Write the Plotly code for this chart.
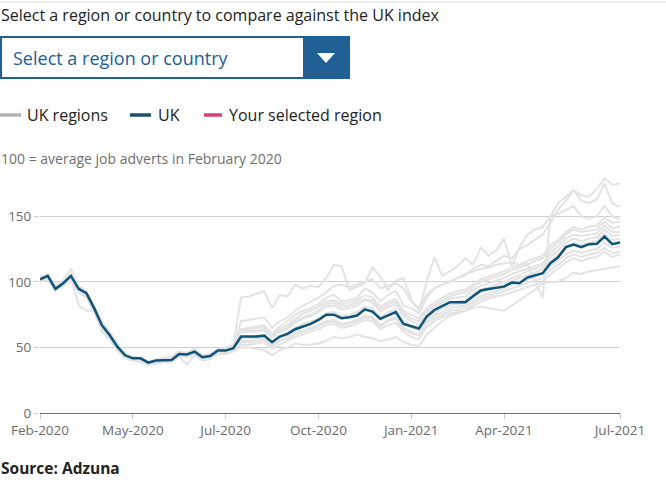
import plotly.graph_objects as go
import pandas as pd

W, H = 666, 497

# Weekly categories (Feb 2020 - Jul 2021)
weeks = list(pd.date_range("2020-02-03", periods=76, freq="7D").strftime("%d-%b-%Y"))
tick_idx = [0, 12, 24, 36, 48, 60, 75]
tick_text = ["Feb-2020", "May-2020", "Jul-2020", "Oct-2020", "Jan-2021", "Apr-2021", "Jul-2021"]

uk = [102, 104.6, 94.7, 99, 104.6, 94.7, 91.4, 80, 67, 59.5, 50.6, 44, 41.7, 41.7, 38.4, 40, 40.3, 40.5,
      45, 44.7, 46.8, 42.5, 43.5, 47.6, 47.6, 49.4, 58.3, 58.3, 58.3, 59, 54, 58.3, 60.3, 63.9, 65.9, 68,
      71, 75, 75, 72.3, 73, 74.3, 79.1, 77.4, 71.8, 74.5, 77, 68, 66, 64.4, 73.5, 78.6, 81.5, 84.5, 84.5,
      84.5, 89, 93.4, 94.5, 95.5, 96.4, 99.5, 99, 103.3, 105, 106.6, 114.3, 118.8, 126.5, 128.5, 126.5,
      128.8, 129, 134.6, 128.8, 130]

r1 = [100, 103, 95, 100, 106, 96, 90, 78, 66, 58, 50, 43, 40, 40, 37, 38, 39, 40, 44, 43, 45, 41, 42, 46, 46, 48,
      64, 65, 66, 67, 60, 66, 70, 75, 78, 80, 83, 88, 90, 85, 86, 88, 95, 92, 85, 90, 93, 82, 80, 76,
      88, 95, 98, 100, 103, 105, 110, 113, 112, 116, 120, 118, 125, 128, 132, 136, 145, 155, 162, 170, 166, 165, 171, 179, 174, 175]
r2 = [104, 106, 96, 101, 110, 97, 93, 82, 70, 62, 53, 46, 43, 42, 39, 41, 42, 43, 47, 46, 49, 44, 45, 49, 50, 52,
      88, 89, 91, 93, 80, 90, 89, 98, 95, 97, 96, 103, 113, 112, 94, 96, 99, 111, 104, 94, 101, 103, 87, 78,
      100, 119, 105, 108, 112, 118, 113, 126, 120, 124, 133, 112, 126, 136, 140, 142, 150, 160, 165, 170, 162, 160, 163, 175, 160, 157]
r3 = [103, 104, 94, 98, 103, 93, 90, 79, 65, 58, 49, 43, 41, 41, 38, 39, 40, 41, 45, 45, 47, 43, 44, 48, 48, 50,
      70, 71, 72, 73, 65, 70, 73, 78, 82, 85, 88, 92, 97, 98, 96, 98, 100, 102, 95, 97, 99, 95, 85, 80,
      90, 95, 98, 100, 103, 106, 108, 110, 111, 113, 114, 115, 113, 114, 100, 88, 150, 152, 155, 158, 150, 148, 150, 158, 150, 148]
r4 = [101, 103, 93, 98, 102, 93, 89, 79, 66, 59, 50, 44, 41, 41, 38, 40, 40, 41, 45, 45, 47, 43, 44, 47, 48, 50,
      64, 64, 65, 66, 60, 64, 67, 72, 76, 78, 81, 85, 86, 83, 84, 86, 90, 88, 81, 85, 87, 78, 75, 72,
      80, 84, 88, 91, 93, 94, 98, 102, 104, 106, 108, 111, 113, 116, 118, 120, 128, 132, 138, 142, 140, 142, 143, 149, 145, 146]
r5 = [102, 104, 95, 99, 104, 95, 91, 80, 67, 60, 51, 44, 42, 42, 39, 40, 40, 41, 45, 45, 47, 43, 44, 48, 48, 49,
      62, 62, 62, 63, 58, 62, 65, 70, 73, 75, 78, 83, 84, 81, 82, 84, 87, 86, 79, 83, 85, 76, 72, 70,
      78, 82, 86, 89, 91, 92, 96, 100, 102, 104, 106, 109, 111, 113, 116, 118, 125, 130, 136, 140, 138, 139, 140, 146, 141, 142]
r6 = [103, 105, 96, 100, 105, 96, 92, 81, 68, 60, 51, 45, 42, 42, 39, 40, 41, 41, 46, 45, 47, 43, 44, 48, 48, 50,
      63, 63, 63, 64, 58, 62, 64, 69, 72, 74, 77, 81, 82, 79, 80, 82, 86, 84, 77, 81, 83, 74, 70, 67,
      76, 81, 84, 87, 88, 89, 94, 97, 99, 101, 103, 106, 108, 110, 112, 114, 122, 127, 133, 136, 135, 136, 137, 143, 138, 138]
r7 = [101, 103, 94, 98, 103, 94, 90, 78, 64, 57, 48, 42, 40, 40, 37, 38, 39, 39, 44, 43, 45, 41, 42, 46, 46, 48,
      58, 58, 58, 59, 54, 58, 61, 65, 68, 70, 72, 76, 77, 74, 75, 77, 81, 80, 73, 77, 79, 70, 67, 64,
      73, 78, 81, 84, 85, 86, 91, 94, 96, 98, 100, 103, 105, 108, 110, 112, 119, 124, 130, 133, 131, 133, 134, 140, 135, 136]
r8 = [102, 104, 95, 99, 104, 95, 91, 80, 66, 59, 50, 44, 41, 41, 38, 39, 40, 40, 44, 44, 46, 42, 43, 47, 47, 49,
      57, 57, 57, 58, 53, 57, 59, 63, 66, 68, 70, 74, 75, 72, 73, 75, 78, 77, 71, 75, 77, 69, 65, 63,
      72, 76, 80, 82, 83, 84, 89, 92, 94, 96, 98, 101, 103, 105, 107, 110, 116, 121, 127, 130, 128, 130, 131, 137, 132, 133]
r9 = [100, 102, 93, 97, 101, 92, 88, 77, 64, 57, 49, 43, 40, 40, 37, 38, 39, 39, 43, 43, 45, 41, 42, 46, 46, 47,
      54, 54, 55, 56, 51, 55, 57, 61, 63, 65, 67, 70, 71, 68, 69, 71, 74, 73, 67, 71, 73, 65, 62, 60,
      70, 74, 77, 80, 81, 82, 86, 89, 91, 93, 95, 98, 100, 102, 104, 106, 112, 116, 121, 124, 122, 124, 125, 130, 126, 127]
r10 = [103, 105, 96, 100, 104, 94, 90, 79, 66, 59, 50, 44, 41, 41, 38, 39, 40, 40, 44, 44, 46, 42, 43, 47, 47, 49,
       55, 55, 55, 56, 51, 55, 57, 60, 62, 64, 66, 69, 70, 67, 68, 70, 73, 72, 66, 70, 72, 64, 61, 59,
       69, 72, 75, 78, 79, 80, 84, 87, 89, 91, 93, 95, 97, 99, 101, 103, 109, 113, 118, 121, 119, 121, 122, 126, 122, 123]
r11 = [103, 104, 95, 99, 103, 82, 78, 78, 62, 56, 48, 42, 40, 39, 37, 38, 39, 39, 43, 43, 45, 41, 42, 46, 46, 48,
       52, 52, 53, 54, 49, 52, 55, 58, 60, 62, 64, 67, 68, 65, 66, 68, 71, 70, 64, 67, 69, 62, 58, 56,
       66, 70, 73, 76, 77, 78, 82, 85, 87, 89, 90, 92, 94, 96, 98, 100, 106, 110, 115, 118, 116, 118, 119, 123, 119, 121]
r12 = [101, 103, 94, 98, 102, 93, 89, 78, 64, 57, 48, 43, 40, 40, 37, 38, 39, 39, 43, 37, 44, 40, 41, 45, 45, 47,
       50, 50, 49, 48, 44, 48, 50, 53, 52, 52, 53, 55, 58, 57, 58, 60, 58, 57, 55, 56, 58, 54, 52, 51,
       60, 65, 70, 74, 76, 78, 80, 81, 80, 79, 78, 82, 86, 90, 94, 99, 100, 100, 103, 107, 106, 108, 109, 110, 111, 112]

regions = [r1, r2, r3, r4, r5, r6, r7, r8, r9, r10, r11, r12]

GRAY = "#e3e3e3"
UKC = "#0f5478"
PINK = "#d6416e"
BLUE = "#206095"
FONT = "Open Sans"

fig = go.Figure()
for r in regions:
    fig.add_trace(go.Scatter(x=weeks, y=r, mode="lines", line=dict(color=GRAY, width=2),
                             showlegend=False, hoverinfo="skip"))
fig.add_trace(go.Scatter(x=weeks, y=uk, mode="lines", line=dict(color=UKC, width=2.5), showlegend=False))


def py(p):
    return 1 - p / H


def px(p):
    return p / W


x0, x1 = 40, 620
ytop, ybot = 177, 413

fig.update_layout(
    width=W, height=H,
    margin=dict(l=0, r=0, t=0, b=0, pad=0, autoexpand=False),
    paper_bgcolor="white", plot_bgcolor="white",
    font=dict(family=FONT, color="#323132"),
    xaxis=dict(domain=[px(x0), px(x1)], type="category", range=[0, 75], automargin=False,
               tickvals=[weeks[i] for i in tick_idx], ticktext=tick_text,
               showgrid=False, showline=True, linecolor="#707070", linewidth=1,
               ticks="outside", ticklen=5, tickcolor="#c8c8c8",
               tickfont=dict(size=13.5, color="#6b6b6b"), zeroline=False),
    yaxis=dict(domain=[py(ybot), py(ytop)], range=[0, 180], automargin=False,
               tickvals=[0, 50, 100, 150], showgrid=True, gridcolor="#cfcfcf", gridwidth=1,
               ticks="outside", ticklen=5, tickcolor="#cfcfcf",
               tickfont=dict(size=13.5, color="#6b6b6b"), zeroline=False, showline=False),
)

shapes = [
    dict(type="line", xref="paper", yref="paper", x0=0, x1=1, y0=py(2), y1=py(2),
         line=dict(color="#d9d9d9", width=1)),
    dict(type="rect", xref="paper", yref="paper", x0=px(1), x1=px(349), y0=py(78), y1=py(37),
         line=dict(color=BLUE, width=2), fillcolor="white"),
    dict(type="rect", xref="paper", yref="paper", x0=px(303), x1=px(349), y0=py(78), y1=py(37),
         line=dict(color=BLUE, width=0), fillcolor=BLUE),
    dict(type="path", xref="paper", yref="paper",
         path=f"M {px(317)},{py(53)} L {px(335)},{py(53)} L {px(326)},{py(63)} Z",
         fillcolor="white", line=dict(width=0)),
    dict(type="line", xref="paper", yref="paper", x0=0, x1=px(21), y0=py(115), y1=py(115),
         line=dict(color="#b3b3b3", width=3.5)),
    dict(type="line", xref="paper", yref="paper", x0=px(130), x1=px(151), y0=py(115), y1=py(115),
         line=dict(color="#1d4f6e", width=3.5)),
    dict(type="line", xref="paper", yref="paper", x0=px(204), x1=px(222), y0=py(115), y1=py(115),
         line=dict(color=PINK, width=3.5)),
]
fig.update_layout(shapes=shapes)


def ann(text, x, y, size, color="#222222", bold=False):
    if bold:
        text = f"<b>{text}</b>"
    fig.add_annotation(text=text, xref="paper", yref="paper", x=px(x), y=py(y),
                       xanchor="left", yanchor="middle", showarrow=False,
                       font=dict(size=size, color=color, family=FONT))


ann("Select a region or country to compare against the UK index", -1, 15, 16)
ann("Select a region or country", 11, 58, 18, color=BLUE)
ann("UK regions", 25, 115, 16)
ann("UK", 156, 115, 16)
ann("Your selected region", 227, 115, 16)
ann("100 = average job adverts in February 2020", -1, 158, 14, color="#707070")
ann("Source: Adzuna", -1, 468, 15.5, bold=True)

fig.write_html("out.html", config={"displayModeBar": False},
               post_script="document.body.style.margin='0';")
